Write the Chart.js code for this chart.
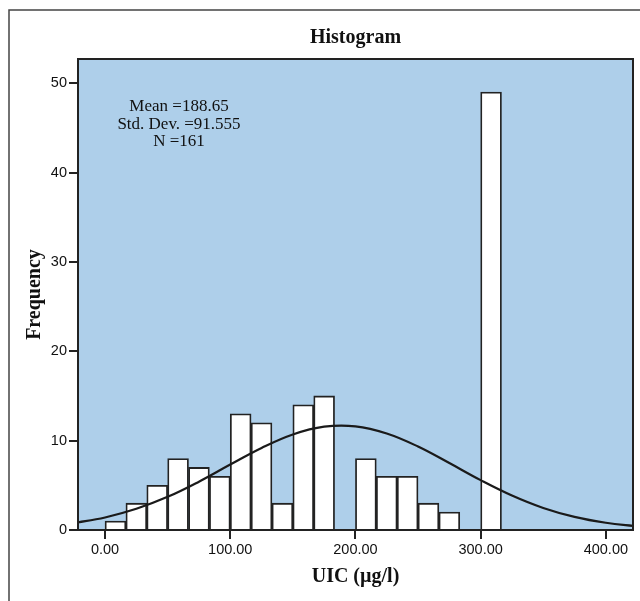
<!DOCTYPE html>
<html>
<head>
<meta charset="utf-8">
<title>Histogram</title>
<script src="https://cdn.jsdelivr.net/npm/chart.js@4/dist/chart.umd.min.js"></script>
<style>
  body { margin: 0; background: #fff; }
</style>
</head>
<body>
<canvas id="histChart" width="640" height="601"></canvas>
<script>
// bin centres (width 16.67 ug/l) and their counts
const binCenters = [8.33, 25, 41.67, 58.33, 75, 91.67, 108.33, 125, 141.67, 158.33, 175, 191.67,
  208.33, 225, 241.67, 258.33, 275, 291.67, 308.33];
const binCounts = [1, 3, 5, 8, 7, 6, 13, 12, 3, 14, 15, 0, 8, 6, 6, 3, 2, 0, 49];

// normal curve
const curveX = [-25, 0, 25, 50, 75, 100, 125, 150, 175, 200, 225, 250, 275, 300, 325, 350, 375, 400, 425];
const curveY = [0.77, 1.40, 2.37, 3.71, 5.41, 7.32, 9.18, 10.69, 11.56, 11.60, 10.80, 9.34, 7.49, 5.58, 3.86, 2.47, 1.47, 0.81, 0.42];

const xTicks = [0, 100, 200, 300, 400];
const yTicks = [0, 10, 20, 30, 40, 50];

const statsLines = ['Mean =188.65', 'Std. Dev. =91.555', 'N =161'];

const serif = '"Liberation Serif", "DejaVu Serif", serif';
const sans = '"Liberation Sans", Arial, sans-serif';

// frame, plot background, chart title and the stats box
const decorations = {
  id: 'decorations',
  beforeDraw(chart) {
    const { ctx, chartArea: a } = chart;
    ctx.save();
    ctx.fillStyle = '#fff';
    ctx.fillRect(0, 0, chart.width, chart.height);
    ctx.strokeStyle = '#444';
    ctx.lineWidth = 1.5;
    ctx.beginPath();
    ctx.moveTo(9, 601);
    ctx.lineTo(9, 10);
    ctx.lineTo(640, 10);
    ctx.stroke();
    ctx.fillStyle = '#aecfea';
    ctx.fillRect(a.left, a.top, a.right - a.left, a.bottom - a.top);
    ctx.restore();
  },
  afterDraw(chart) {
    const { ctx, chartArea: a } = chart;
    ctx.save();
    ctx.strokeStyle = '#222';
    ctx.lineWidth = 2;
    ctx.strokeRect(a.left, a.top, a.right - a.left, a.bottom - a.top);

    ctx.fillStyle = '#111';
    ctx.textAlign = 'center';
    ctx.textBaseline = 'middle';
    ctx.font = 'bold 20px ' + serif;
    ctx.fillText('Histogram', (a.left + a.right) / 2, 38);

    ctx.font = '17px ' + serif;
    statsLines.forEach((line, i) => {
      ctx.fillText(line, 179, 107 + i * 17.5);
    });
    ctx.restore();
  }
};

new Chart(document.getElementById('histChart'), {
  type: 'bar',
  data: {
    datasets: [
      {
        type: 'line',
        data: curveX.map((x, i) => ({ x: x, y: curveY[i] })),
        borderColor: '#1a1a1a',
        borderWidth: 2.2,
        pointRadius: 0,
        tension: 0.4,
        fill: false,
        order: 0
      },
      {
        type: 'bar',
        data: binCenters.map((x, i) => ({ x: x, y: binCounts[i] })),
        backgroundColor: '#fff',
        borderColor: '#222',
        borderWidth: 1.8,
        barPercentage: 1,
        categoryPercentage: 1,
        order: 1
      }
    ]
  },
  options: {
    responsive: false,
    animation: false,
    layout: { padding: { top: 59, right: 7, left: 0, bottom: 0 } },
    plugins: {
      legend: { display: false },
      tooltip: { enabled: false }
    },
    scales: {
      x: {
        type: 'linear',
        min: -21.6,
        max: 421.7,
        offset: false,
        afterFit: (scale) => { scale.height = 71; },
        afterBuildTicks: (scale) => { scale.ticks = xTicks.map(v => ({ value: v })); },
        grid: { offset: false, drawOnChartArea: false, drawTicks: true, tickLength: 9, color: '#222', lineWidth: 2 },
        border: { display: true, color: '#222', width: 2 },
        ticks: {
          padding: 2.5,
          color: '#111',
          font: { family: sans, size: 14.5 },
          callback: (v) => v.toFixed(2)
        },
        title: {
          display: true,
          text: 'UIC (µg/l)',
          color: '#111',
          font: { family: serif, size: 20, weight: 'bold' },
          padding: { top: 0, bottom: 12.5 }
        }
      },
      y: {
        min: 0,
        max: 52.7,
        afterFit: (scale) => { scale.width = 78; },
        afterBuildTicks: (scale) => { scale.ticks = yTicks.map(v => ({ value: v })); },
        grid: { drawOnChartArea: false, drawTicks: true, tickLength: 9, color: '#222', lineWidth: 2 },
        border: { display: true, color: '#222', width: 2 },
        ticks: {
          padding: 2,
          color: '#111',
          font: { family: sans, size: 14.5 }
        },
        title: {
          display: true,
          text: 'Frequency',
          color: '#111',
          font: { family: serif, size: 20, weight: 'bold' },
          padding: { top: 22.5, bottom: 0 }
        }
      }
    }
  },
  plugins: [decorations]
});
</script>
</body>
</html>
